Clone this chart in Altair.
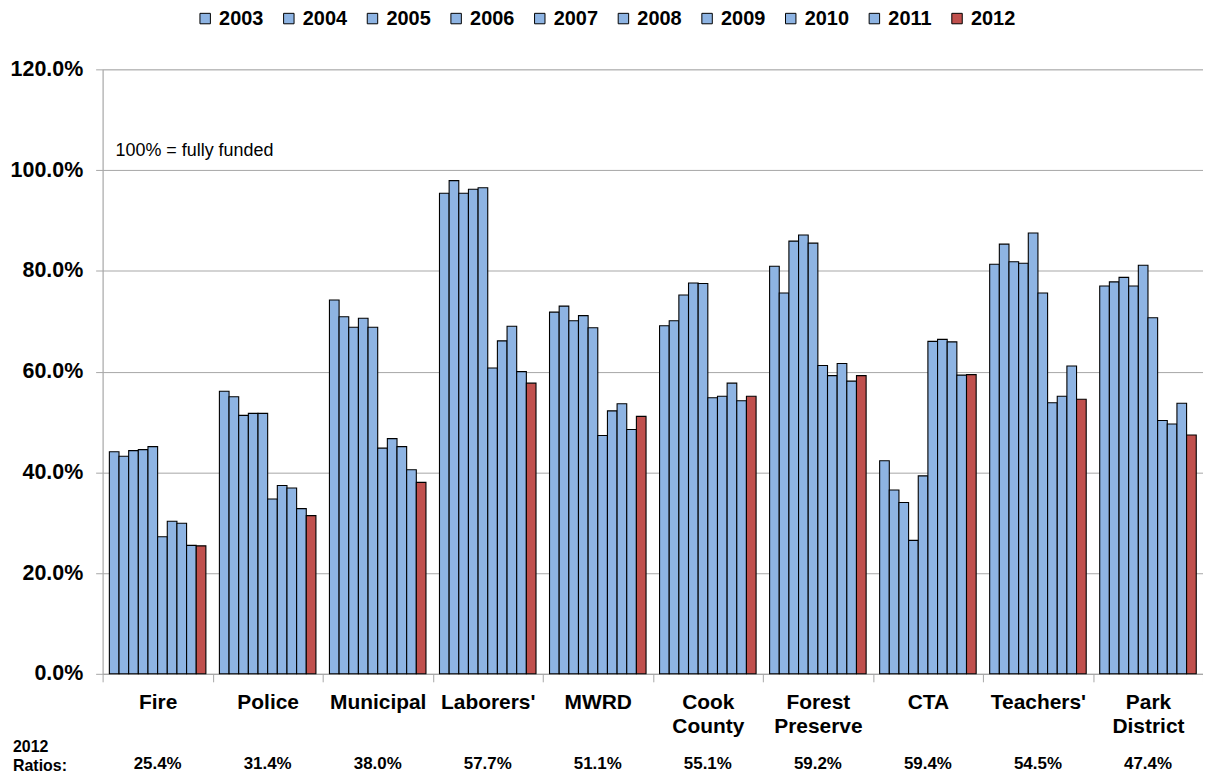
import altair as alt
import pandas as pd

categories = ["Fire", "Police", "Municipal", "Laborers'", "MWRD", "Cook County",
              "Forest Preserve", "CTA", "Teachers'", "Park District"]
years = ["2003", "2004", "2005", "2006", "2007", "2008", "2009", "2010", "2011", "2012"]

fire = [44.1, 43.2, 44.3, 44.5, 45.1, 27.2, 30.3, 29.9, 25.5, 25.4]
police = [56.1, 55.0, 51.3, 51.7, 51.7, 34.7, 37.4, 36.9, 32.8, 31.4]
municipal = [74.2, 70.9, 68.8, 70.6, 68.8, 44.8, 46.7, 45.1, 40.5, 38.0]
laborers = [95.4, 97.9, 95.4, 96.2, 96.5, 60.7, 66.1, 69.0, 60.0, 57.7]
mwrd = [71.8, 73.0, 70.1, 71.1, 68.7, 47.3, 52.2, 53.6, 48.5, 51.1]
cook = [69.1, 70.1, 75.2, 77.6, 77.5, 54.8, 55.1, 57.7, 54.2, 55.1]
forest = [80.9, 75.6, 85.9, 87.1, 85.5, 61.2, 59.2, 61.6, 58.1, 59.2]
cta = [42.3, 36.5, 34.0, 26.5, 39.3, 66.0, 66.4, 65.9, 59.3, 59.4]
teachers = [81.3, 85.3, 81.8, 81.5, 87.5, 75.6, 53.8, 55.1, 61.1, 54.5]
park = [77.0, 77.8, 78.7, 77.0, 81.1, 70.7, 50.3, 49.6, 53.7, 47.4]

series = [fire, police, municipal, laborers, mwrd, cook, forest, cta, teachers, park]
ratio_labels = ["25.4%", "31.4%", "38.0%", "57.7%", "51.1%", "55.1%", "59.2%", "59.4%", "54.5%", "47.4%"]

rows = []
for cat, vals in zip(categories, series):
    for yr, v in zip(years, vals):
        rows.append({"cat": cat, "year": yr, "value": v / 100.0})
df = pd.DataFrame(rows)
ratios_df = pd.DataFrame({"cat": categories, "label": ratio_labels})

blue = "#8EB4E3"
red = "#C0504D"
colors = [blue] * 9 + [red]
FONT = "Liberation Sans"

x_enc = alt.X(
    "cat:N", sort=categories, title=None,
    scale=alt.Scale(paddingInner=0, paddingOuter=0),
    axis=alt.Axis(labelAngle=0, labelFontSize=21, labelFontWeight="bold", labelColor="black",
                  labelExpr="split(datum.label, ' ')", labelLineHeight=24,
                  tickBand="extent", tickSize=8, tickColor="#A6A6A6", domainColor="#A6A6A6",
                  labelPadding=10, labelFont=FONT),
)

bars = alt.Chart(df).mark_bar(stroke="black", strokeWidth=1.1).encode(
    x=x_enc,
    xOffset=alt.XOffset("year:N", sort=years,
                        scale=alt.Scale(paddingOuter=0.7, paddingInner=0)),
    y=alt.Y("value:Q", title=None,
            scale=alt.Scale(domain=[0, 1.2], nice=False),
            axis=alt.Axis(values=[0, 0.2, 0.4, 0.6, 0.8, 1.0, 1.2], format=".1%",
                          labelFontSize=21.5, labelFontWeight="bold", labelColor="black",
                          labelFont=FONT, grid=True, gridColor="#A6A6A6",
                          domainColor="#A6A6A6", tickColor="#A6A6A6", tickSize=7,
                          labelPadding=13)),
    color=alt.Color("year:N", sort=years, title=None,
                    scale=alt.Scale(domain=years, range=colors),
                    legend=alt.Legend(orient="none", legendX=93, legendY=-61, direction="horizontal",
                                      columns=10, symbolType="square", symbolSize=110,
                                      symbolStrokeColor="black", symbolStrokeWidth=1,
                                      labelFontSize=20, labelFontWeight="bold", labelFont=FONT,
                                      labelColor="black", columnPadding=15, labelOffset=4)),
)

ratio_text = alt.Chart(ratios_df).mark_text(fontSize=17, fontWeight="bold", font=FONT,
                                            color="black", baseline="middle").encode(
    x=alt.X("cat:N", sort=categories),
    y=alt.value(698),
    text="label:N",
)

ratios_title = alt.Chart(pd.DataFrame({"t": ["2012\nRatios:"]})).mark_text(
    fontSize=16, fontWeight="bold", font=FONT, color="black", align="left",
    baseline="middle", lineBreak="\n", lineHeight=19,
).encode(x=alt.value(-90), y=alt.value(681), text="t:N")

note = alt.Chart(pd.DataFrame({"t": ["100% = fully funded"]})).mark_text(
    fontSize=18, font=FONT, color="black", align="left", baseline="middle",
).encode(x=alt.value(13), y=alt.value(82), text="t:N")

chart = alt.layer(bars, ratio_text, ratios_title, note).properties(
    width=1105, height=607,
    autosize=alt.AutoSizeParams(type="none"),
    padding={"left": 95, "top": 60, "right": 0, "bottom": 100},
).configure_view(stroke=None).configure(font=FONT)

chart.save("out.html", embed_options={"renderer": "svg", "actions": False})
